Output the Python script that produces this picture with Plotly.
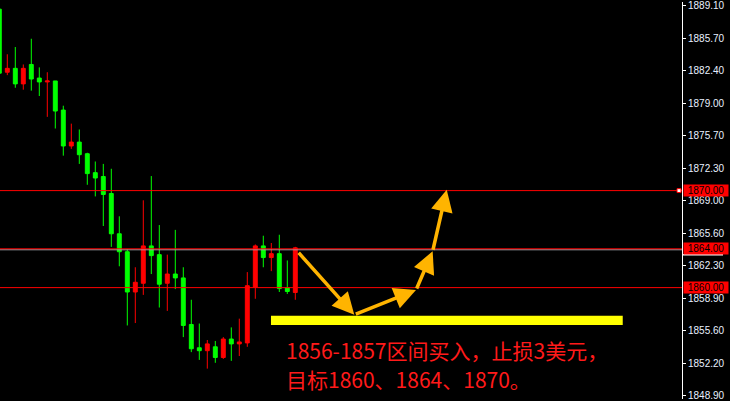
import plotly.graph_objects as go

# ---- data ----
bar_index = list(range(38))
open_ = [1888.7, 1882.2, 1882.6, 1881.0, 1883.0, 1881.6, 1881.2, 1881.3, 1878.3, 1874.6,
         1875.0, 1873.8, 1871.85, 1871.45, 1869.7, 1865.55, 1863.7, 1859.55, 1860.45, 1864.3,
         1863.4, 1860.45, 1861.4, 1861.0, 1856.2, 1853.8, 1853.5, 1853.9, 1852.8, 1854.7,
         1854.2, 1854.3, 1860.05, 1864.3, 1863.1, 1863.5, 1860.0, 1859.5]
high_ = [1888.7, 1884.05, 1884.8, 1883.0, 1885.65, 1882.7, 1882.2, 1881.3, 1878.75, 1876.9,
         1876.3, 1873.9, 1873.0, 1872.75, 1872.25, 1867.35, 1863.95, 1862.1, 1869.0, 1871.5,
         1866.45, 1863.4, 1865.95, 1862.1, 1858.75, 1856.3, 1854.6, 1854.5, 1854.9, 1855.9,
         1856.8, 1861.6, 1864.45, 1865.35, 1864.6, 1865.45, 1862.8, 1864.2]
low_ = [1881.9, 1881.9, 1880.6, 1880.4, 1880.3, 1879.75, 1877.6, 1876.4, 1873.6, 1874.3,
        1872.75, 1870.6, 1869.4, 1866.35, 1864.2, 1862.2, 1856.1, 1856.35, 1859.25, 1861.4,
        1857.95, 1857.6, 1859.85, 1854.9, 1853.35, 1852.55, 1851.65, 1852.25, 1852.65, 1852.45,
        1852.95, 1853.9, 1858.85, 1862.1, 1861.7, 1859.55, 1859.35, 1858.75]
close_ = [1882.1, 1882.6, 1881.0, 1882.6, 1881.5, 1881.2, 1881.3, 1878.2, 1874.6, 1875.0,
          1873.7, 1871.75, 1871.3, 1869.6, 1865.55, 1863.7, 1859.55, 1860.55, 1864.3, 1863.3,
          1860.35, 1861.4, 1861.0, 1856.1, 1853.7, 1853.5, 1854.2, 1852.8, 1854.7, 1854.2,
          1854.4, 1860.2, 1864.3, 1863.1, 1863.5, 1859.9, 1859.6, 1864.1]

tick_vals = [1889.10, 1885.70, 1882.40, 1879.00, 1875.70, 1872.30, 1869.00,
             1865.60, 1862.30, 1858.90, 1855.60, 1852.20, 1848.90]
tick_text = ["1889.10", "1885.70", "1882.40", "1879.00", "1875.70", "1872.30", "1869.00",
             "1865.60", "1862.30", "1858.90", "1855.60", "1852.20", "1848.90"]

level_prices = [1870.0, 1864.0, 1860.0]
level_labels = ["1870.00", "1864.00", "1860.00"]

zone_low, zone_high = 1856.15, 1857.1
zone_start, zone_end = 33.96, 77.93

arrow_x = [37.25, 44.375, 52.09, 54.17, 55.93]
arrow_price = [1863.75, 1857.2, 1859.76, 1863.75, 1870.1]

note_line1 = "1856-1857区间买入，止损3美元，"
note_line2 = "目标1860、1864、1870。"

# ---- geometry ----
W, H = 730, 401
axis_px = 682
x_range = [0.0875, (axis_px + 0.7) / 8]
px_per_unit = 9.8
y_top = 1870.0 + 190.5 / px_per_unit
y_bot = y_top - H / px_per_unit
dom_x = axis_px / W

fig = go.Figure()
fig.add_trace(go.Candlestick(
    x=bar_index, open=open_, high=high_, low=low_, close=close_,
    increasing=dict(line=dict(color="#FF0000", width=1), fillcolor="#FF0000"),
    decreasing=dict(line=dict(color="#00FF00", width=1), fillcolor="#00FF00"),
    whiskerwidth=0, showlegend=False, hoverinfo="skip",
))

shapes = []
shapes.append(dict(type="rect", xref="x", yref="y", x0=zone_start, x1=zone_end,
                   y0=zone_low, y1=zone_high, fillcolor="#FFFF00", line=dict(width=0), layer="above"))
shapes.append(dict(type="line", xref="paper", yref="y", x0=0, x1=dom_x,
                   y0=level_prices[0], y1=level_prices[0], line=dict(color="#FF0000", width=1)))
shapes.append(dict(type="line", xref="paper", yref="y", x0=0, x1=dom_x,
                   y0=level_prices[1] - 0.1, y1=level_prices[1] - 0.1, line=dict(color="#A8B0B8", width=1)))
shapes.append(dict(type="line", xref="paper", yref="y", x0=0, x1=dom_x,
                   y0=level_prices[1], y1=level_prices[1], line=dict(color="#FF0000", width=1)))
shapes.append(dict(type="line", xref="paper", yref="y", x0=0, x1=dom_x,
                   y0=level_prices[2], y1=level_prices[2], line=dict(color="#FF0000", width=1)))
shapes.append(dict(type="rect", xref="paper", yref="y", x0=677 / W, x1=681 / W,
                   y0=level_prices[0] - 0.2, y1=level_prices[0] + 0.2,
                   fillcolor="#FFFFFF", line=dict(color="#FF0000", width=1)))
shapes.append(dict(type="line", xref="paper", yref="y", x0=683 / W, x1=723 / W,
                   y0=level_prices[1] - 0.6, y1=level_prices[1] - 0.6,
                   line=dict(color="#FFFFFF", width=1.5)))

annotations = []
for i in range(len(arrow_x) - 1):
    annotations.append(dict(
        x=arrow_x[i + 1], y=arrow_price[i + 1], ax=arrow_x[i], ay=arrow_price[i],
        xref="x", yref="y", axref="x", ayref="y", text="", showarrow=True,
        arrowhead=2, arrowsize=1.25, arrowwidth=3.5, arrowcolor="#FFB400", standoff=0,
    ))
annotations.append(dict(x=284 / W, y=1 - 334 / H, xref="paper", yref="paper", xanchor="left",
                        yanchor="top", text=note_line1, showarrow=False,
                        font=dict(family="Noto Sans CJK SC", size=21, color="#FF1A1A")))
annotations.append(dict(x=284 / W, y=1 - 364 / H, xref="paper", yref="paper", xanchor="left",
                        yanchor="top", text=note_line2, showarrow=False,
                        font=dict(family="Noto Sans CJK SC", size=21, color="#FF1A1A")))
for p, lab in zip(level_prices, level_labels):
    annotations.append(dict(x=683 / W, y=p, xref="paper", yref="y", xanchor="left", yanchor="middle",
                            text=lab, showarrow=False, bgcolor="#FF0000", borderpad=0,
                            width=44, height=11, align="center",
                            font=dict(family="Liberation Sans", size=10, color="#000000")))

fig.update_layout(
    width=W, height=H, margin=dict(l=0, r=0, t=0, b=0),
    paper_bgcolor="#000000", plot_bgcolor="#000000",
    shapes=shapes, annotations=annotations, showlegend=False,
    xaxis=dict(domain=[0, dom_x], range=x_range, showgrid=False, zeroline=False,
               showticklabels=False, rangeslider=dict(visible=False), fixedrange=True),
    yaxis=dict(range=[y_bot, y_top], side="right", showgrid=False, zeroline=False,
               tickvals=tick_vals, ticktext=tick_text, ticks="outside", ticklen=3,
               ticklabeloverflow="allow",
               tickcolor="#FFFFFF", showline=True, linecolor="#FFFFFF", linewidth=1,
               tickfont=dict(family="Liberation Sans", size=10, color="#E8F0FF")),
)

fig.write_html("out.html", config={"displayModeBar": False}, post_script=(
    "document.body.style.margin='0';document.body.style.overflow='hidden';"
    "document.documentElement.style.overflow='hidden';"))
